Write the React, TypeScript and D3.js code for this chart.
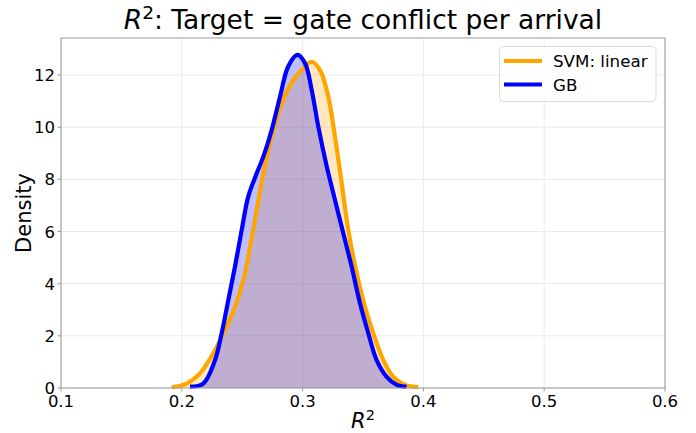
import React from 'react';
import * as d3 from 'd3';

// KDE curves
const svmX = [0.1916, 0.204, 0.215, 0.226, 0.2358, 0.244, 0.2509, 0.2565, 0.262, 0.2675, 0.2744, 0.2827, 0.2923, 0.3006, 0.3075, 0.3144, 0.3213, 0.3268, 0.3324, 0.3378, 0.3448, 0.3516, 0.3585, 0.3668, 0.375, 0.3848, 0.3958];
const svmY = [0.03, 0.17, 0.56, 1.33, 2.22, 3.12, 4.14, 5.42, 6.83, 8.23, 9.64, 10.92, 11.81, 12.26, 12.51, 12.19, 11.17, 9.64, 7.85, 6.06, 4.4, 3.12, 2.1, 1.07, 0.43, 0.12, 0.03];
const gbX = [0.2068, 0.2178, 0.2275, 0.233, 0.2385, 0.244, 0.2496, 0.255, 0.262, 0.2675, 0.2744, 0.2813, 0.288, 0.2956, 0.302, 0.3075, 0.313, 0.32, 0.3268, 0.3337, 0.3406, 0.3475, 0.3544, 0.3613, 0.3696, 0.378, 0.386];
const gbY = [0.05, 0.17, 1.07, 2.1, 3.37, 4.65, 6.06, 7.34, 8.23, 8.87, 9.89, 11.17, 12.32, 12.77, 12.45, 11.43, 10.02, 8.49, 7.21, 5.93, 4.65, 3.25, 2.1, 1.07, 0.43, 0.12, 0.05];

const xTicks = [0.1, 0.2, 0.3, 0.4, 0.5, 0.6];
const yTicks = [0, 2, 4, 6, 8, 10, 12];

const series = [
  { name: 'SVM: linear', color: '#FFA500', xs: svmX, ys: svmY },
  { name: 'GB', color: '#0000FF', xs: gbX, ys: gbY },
];

const width = 696;
const height = 433;
const margin = { top: 38, right: 31, bottom: 45, left: 61 };
const font = 'DejaVu Sans, sans-serif';

export default function App() {
  const x = d3.scaleLinear().domain([0.1, 0.6]).range([margin.left, width - margin.right]);
  const y = d3.scaleLinear().domain([0, 13.42]).range([height - margin.bottom, margin.top]);

  const line = d3.line<[number, number]>()
    .x(d => x(d[0]))
    .y(d => y(d[1]))
    .curve(d3.curveCatmullRom);
  const area = d3.area<[number, number]>()
    .x(d => x(d[0]))
    .y0(y(0))
    .y1(d => y(d[1]))
    .curve(d3.curveCatmullRom);

  const pts = series.map(s => s.xs.map((v, i) => [v, s.ys[i]] as [number, number]));
  const x0 = margin.left, x1 = width - margin.right;
  const y0 = height - margin.bottom, y1 = margin.top;
  const cx = (x0 + x1) / 2;

  return (
    <svg width={width} height={height} style={{ position: 'absolute', left: 0, top: 0, background: '#fff' }} fontFamily={font}>
      {/* grid */}
      {xTicks.map(t => (
        <line key={'gx' + t} x1={x(t)} x2={x(t)} y1={y0} y2={y1} stroke="#ebebeb" strokeWidth={1} />
      ))}
      {yTicks.map(t => (
        <line key={'gy' + t} x1={x0} x2={x1} y1={y(t)} y2={y(t)} stroke="#ebebeb" strokeWidth={1} />
      ))}

      {/* fills below lines */}
      {pts.map((p, i) => (
        <path key={'a' + i} d={area(p) || ''} fill={series[i].color} fillOpacity={0.25} />
      ))}
      {pts.map((p, i) => (
        <path key={'l' + i} d={line(p) || ''} fill="none" stroke={series[i].color} strokeWidth={4.2} strokeLinejoin="round" />
      ))}

      {/* frame */}
      <rect x={x0} y={y1} width={x1 - x0} height={y0 - y1} fill="none" stroke="#999" strokeWidth={1} />

      {/* ticks */}
      {xTicks.map(t => (
        <g key={'tx' + t}>
          <line x1={x(t)} x2={x(t)} y1={y0} y2={y0 + 3.5} stroke="#999" />
          <text x={x(t)} y={y0 + 19} fontSize={16.5} textAnchor="middle" fill="#000">{t.toFixed(1)}</text>
        </g>
      ))}
      {yTicks.map(t => (
        <g key={'ty' + t}>
          <line x1={x0 - 3.5} x2={x0} y1={y(t)} y2={y(t)} stroke="#999" />
          <text x={x0 - 6} y={y(t) + 6} fontSize={16.5} textAnchor="end" fill="#000">{t}</text>
        </g>
      ))}

      {/* axis labels */}
      <text x={cx} y={428} fontSize={21} textAnchor="middle">
        <tspan fontStyle="italic">R</tspan>
        <tspan fontSize={14.5} dy={-8}>2</tspan>
      </text>
      <text transform={`translate(31,${(y0 + y1) / 2}) rotate(-90)`} fontSize={21} textAnchor="middle">Density</text>

      {/* title */}
      <text x={cx} y={29} fontSize={26.5} textAnchor="middle">
        <tspan fontStyle="italic">R</tspan>
        <tspan fontSize={18.5} dy={-10}>2</tspan>
        <tspan dy={10}>: Target = gate conflict per arrival</tspan>
      </text>

      {/* legend */}
      <rect x={499.5} y={46.5} width={156.5} height={55} rx={4} fill="#fff" fillOpacity={0.8} stroke="#ddd" />
      {series.map((s, i) => (
        <g key={'lg' + i}>
          <line x1={504} x2={542} y1={61 + i * 23.5} y2={61 + i * 23.5} stroke={s.color} strokeWidth={4.2} />
          <text x={553} y={67 + i * 23.5} fontSize={16.7} fill="#000">{s.name}</text>
        </g>
      ))}
    </svg>
  );
}
